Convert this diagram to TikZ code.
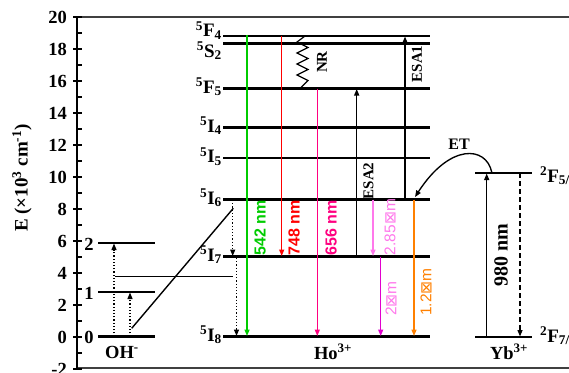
\documentclass[tikz,border=0pt]{standalone}
\usepackage{fontspec}
\setmainfont{Liberation Serif}
\newfontfamily\arialf{Liberation Sans}
\newfontfamily\dejavuf{DejaVu Sans}
\usetikzlibrary{arrows.meta}
\definecolor{cgreen}{RGB}{0,204,0}
\definecolor{cred}{RGB}{255,0,0}
\definecolor{cpink}{RGB}{255,0,128}
\definecolor{clpink}{RGB}{255,120,235}
\definecolor{cmag}{RGB}{225,0,205}
\definecolor{corange}{RGB}{255,128,0}
\newcommand{\lvl}[3]{\textsuperscript{#1}#2\textsubscript{#3}}
\newcommand{\um}{{\dejavuf ⊠}}
\begin{document}
\begin{tikzpicture}[x=1pt,y=-1pt,
  lev/.style={line width=2.1pt},
  tipa/.style={-{Triangle[length=6.5pt,width=5pt]}},
  tr/.style={line width=1.35pt,tipa},
  dotar/.style={line width=1.2pt,dotted,tipa},
  big/.style={font=\bfseries\fontsize{18.5}{18.5}\selectfont},
  hol/.style={font=\bfseries\fontsize{19}{19}\selectfont,anchor=base east,inner sep=0pt},
  tag/.style={font=\bfseries\fontsize{15}{15}\selectfont,rotate=90,inner sep=0pt},
  ctag/.style={font=\arialf\bfseries\fontsize{16}{16}\selectfont,rotate=90,inner sep=0pt},
  utag/.style={font=\arialf\fontsize{15.5}{15.5}\selectfont,rotate=90,inner sep=0pt},
  frame/.style={line width=2pt,black!75}]
\useasboundingbox (0,0) rectangle (569,372);
% frame and axis
\draw[frame] (77,17) -- (569,17);
\draw[frame] (77,367.5) -- (569,367.5);
\draw[line width=1.6pt] (77,17) -- (77,368);
\foreach \v in {-2,0,...,20}{
  \draw[line width=1.3pt] (73,337-16*\v) -- (82,337-16*\v);
  \node[big,anchor=east,inner sep=0pt] (t\v) at (67,337-16*\v) {\v};
}
\foreach \v in {-1,1,...,19}{
  \draw[line width=1.3pt] (77,337-16*\v) -- (82,337-16*\v);
}
\node[font=\bfseries\fontsize{19}{19}\selectfont,rotate=90] (ylab) at (22,178) {E (×10\textsuperscript{3} cm\textsuperscript{-1})};
% OH- levels
\draw[lev] (98,336.5) -- (155,336.5);
\draw[lev] (98,291.7) -- (155,291.7);
\draw[lev] (98,242.7) -- (155,242.7);
\node[big,inner sep=0pt] (oh0) at (89,337.5) {0};
\node[big,inner sep=0pt] (oh1) at (89,293) {1};
\node[big,inner sep=0pt] (oh2) at (89,244.5) {2};
\draw[dotar] (114,336.5) -- (114,243.5);
\draw[dotar] (130,336.5) -- (130,292.5);
\draw[line width=1.3pt] (115,276.7) -- (233,276.7);
\draw[line width=1.4pt] (131.7,328.3) -- (233.3,208.3);
\node[big,anchor=base,inner sep=0pt] (ohl) at (122,358) {OH\textsuperscript{-}};
% Ho levels
\foreach \y in {36,43.5,88.5,127.5,158,199.5,256.5,336.5}{
  \draw[lev] (223,\y) -- (430,\y);
}
\node[hol] (f4) at (222,36.5) {\lvl{5}{F}{4}};
\node[hol] (s2) at (222,57) {\lvl{5}{S}{2}};
\node[hol] (f5) at (222,93) {\lvl{5}{F}{5}};
\node[hol] (i4) at (222,132) {\lvl{5}{I}{4}};
\node[hol] (i5) at (222,162.5) {\lvl{5}{I}{5}};
\node[hol] (i6) at (222,204) {\lvl{5}{I}{6}};
\node[hol] (i7) at (222,261) {\lvl{5}{I}{7}};
\node[hol] (i8) at (222,341) {\lvl{5}{I}{8}};
\node[big,anchor=base,inner sep=0pt] (hol) at (333,359) {Ho\textsuperscript{3+}};
% Ho transitions
\draw[dotar] (232.7,200) -- (232.7,256);
\draw[dotar] (236.5,258) -- (236.5,336);
\draw[tr,cgreen] (247,34.5) -- (247,336);
\draw[tr,cred] (281.7,36) -- (281.7,256);
\draw[line width=1.2pt] (305,36) -- (297,42) -- (308,47.5) -- (297,53) -- (308,58.5) -- (297,64) -- (308,69.5) -- (297,75) -- (308,80.5) -- (300,88.5);
\node[tag] (nr) at (322,62) {NR};
\draw[tr,cpink] (317.3,88.5) -- (317.3,336);
\draw[tr] (356.7,256.5) -- (356.7,89);
\node[tag] (esa2) at (368.5,181) {ESA2};
\draw[tr] (405,199.5) -- (405,36.5);
\node[tag] (esa1) at (417,64) {ESA1};
\draw[tr,clpink] (373,199.5) -- (373,256);
\draw[tr,cmag] (380.7,256.5) -- (380.7,336);
\draw[tr,corange] (414,199.5) -- (414,336);
\node[ctag,cgreen] (l542) at (260,228) {542 nm};
\node[ctag,cred] (l748) at (294,228) {748 nm};
\node[ctag,cpink] (l656) at (331,228) {656 nm};
\node[utag,clpink] (l285) at (390,227) {2.85\um m};
\node[utag,clpink] (l2) at (391,298.5) {2\um m};
\node[utag,corange] (l12) at (426,292) {1.2\um m};
% Yb
\draw[lev] (475,172.7) -- (532,172.7);
\draw[lev] (475,337.3) -- (532,337.3);
\draw[tr] (486.7,337.3) -- (486.7,173.5);
\draw[line width=1.35pt,dash pattern=on 5pt off 3pt,tipa] (520,173) -- (520,336.5);
\node[font=\bfseries\fontsize{20}{20}\selectfont,rotate=90,inner sep=0pt] (l980) at (501,255) {980 nm};
\node[font=\bfseries\fontsize{19}{19}\selectfont,anchor=base west,inner sep=0pt] (yf5) at (540,182) {\lvl{2}{F}{5/}};
\node[font=\bfseries\fontsize{19}{19}\selectfont,anchor=base west,inner sep=0pt] (yf7) at (540,342) {\lvl{2}{F}{7/}};
\node[big,anchor=base,inner sep=0pt] (ybl) at (509,359) {Yb\textsuperscript{3+}};
\draw[line width=1.35pt,tipa] (491.7,172) .. controls (486,146) and (450,143) .. (415,197);
\node[font=\bfseries\fontsize{16}{16}\selectfont,inner sep=0pt] (et) at (459,144) {ET};
\end{tikzpicture}
\end{document}
